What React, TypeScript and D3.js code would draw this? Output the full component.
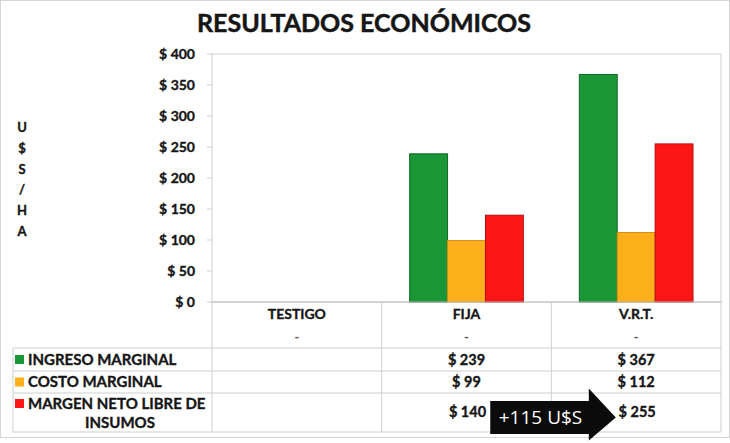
import React from 'react';
import * as d3 from 'd3';

// chart data
const categories = ['TESTIGO', 'FIJA', 'V.R.T.'];
const seriesNames = ['INGRESO MARGINAL', 'COSTO MARGINAL', 'MARGEN NETO LIBRE DE INSUMOS'];
const ingresoMarginal = [null, 239, 367];
const costoMarginal = [null, 99, 112];
const margenNeto = [null, 140, 255];
const yTicks = [0, 50, 100, 150, 200, 250, 300, 350, 400];
const yAxisLabel = ['U', '$', 'S', '/', 'H', 'A'];
const title = 'RESULTADOS ECONÓMICOS';
const arrowLabel = '+115 U$S';

const colors = ['#1b9636', '#fdb01c', '#fe1515'];
const strokes = ['#0f6a25', '#d18d12', '#b30f0f'];

const W = 730;
const H = 443;
const font = 'Lato, "Open Sans", sans-serif';
const ink = '#161616';
const gridColor = '#cfcfcf';

// bold text a little heavier, like the original's font
const heavy = {fontWeight: 700, fill: ink, stroke: ink, strokeWidth: 0.35} as const;

export default function App() {
    const series = [ingresoMarginal, costoMarginal, margenNeto];

    // set the dimensions of the plot area
    const margin = {top: 54, right: 9, bottom: 141, left: 212};
    const plotBottom = H - margin.bottom;

    const x = d3.scaleBand<string>()
        .domain(categories)
        .range([margin.left, W - margin.right]);
    const bw = x.bandwidth();

    const x1 = d3.scaleBand<string>()
        .domain(seriesNames)
        .range([bw * 0.165, bw * 0.835]);

    const y = d3.scaleLinear()
        .domain([0, 400])
        .range([plotBottom, margin.top]);

    // data table rows under the axis
    const tableLeft = 13;
    const rowLines = [plotBottom + 46, plotBottom + 69, plotBottom + 91, plotBottom + 130];
    const rowCenters = [
        (rowLines[0] + rowLines[1]) / 2,
        (rowLines[1] + rowLines[2]) / 2,
        (rowLines[2] + rowLines[3]) / 2,
    ];
    const right = W - margin.right;

    // arrow annotation between FIJA and V.R.T. margin values
    const ax0 = x('FIJA')! + bw * 0.64;
    const axTip = x('V.R.T.')! + bw * 0.38;
    const axHead = axTip - 27;
    const ayMid = rowCenters[2] + 5;
    const arrowPath = [
        [ax0, ayMid - 16.5], [axHead, ayMid - 16.5], [axHead, ayMid - 29],
        [axTip, ayMid], [axHead, ayMid + 23], [axHead, ayMid + 16.5], [ax0, ayMid + 16.5],
    ].map((p, i) => (i ? 'L' : 'M') + p[0] + ',' + p[1]).join('') + 'Z';

    return (
        <svg width={W} height={H} style={{position: 'absolute', left: 0, top: 0, background: '#fff'}}
             fontFamily={font}>
            <rect x={0.5} y={0.5} width={W - 1} height={437} fill="none" stroke="#d6d6d6" />

            <text x={364} y={32} textAnchor="middle" fontSize={25} {...heavy} strokeWidth={0.5}>{title}</text>

            {/* y axis title, one letter per line */}
            {yAxisLabel.map((c, i) => (
                <text key={i} x={22} y={132 + i * 20.8} textAnchor="middle" fontSize={13} {...heavy}>{c}</text>
            ))}

            {/* plot area border */}
            <rect x={margin.left} y={margin.top} width={right - margin.left} height={plotBottom - margin.top}
                  fill="none" stroke={gridColor} />

            {/* y axis ticks */}
            {yTicks.map(t => (
                <g key={t}>
                    <line x1={margin.left - 5} x2={margin.left} y1={y(t)} y2={y(t)} stroke={gridColor} />
                    <text x={195} y={y(t)} dy="0.35em" textAnchor="end" fontSize={14} {...heavy}>
                        {'$ ' + t}
                    </text>
                </g>
            ))}

            {/* bars */}
            {categories.map((c, ci) => (
                <g key={c} transform={`translate(${x(c)},0)`}>
                    {series.map((s, si) => s[ci] == null ? null : (
                        <rect key={si} x={x1(seriesNames[si])} width={x1.bandwidth()}
                              y={y(s[ci]!)} height={plotBottom - y(s[ci]!)}
                              fill={colors[si]} stroke={strokes[si]} strokeWidth={1} />
                    ))}
                </g>
            ))}

            {/* data table grid */}
            <line x1={margin.left} x2={right} y1={plotBottom} y2={plotBottom} stroke="#bdbdbd" />
            {rowLines.map((ry, i) => (
                <line key={i} x1={tableLeft} x2={right} y1={ry} y2={ry} stroke={gridColor} />
            ))}
            <line x1={tableLeft} x2={tableLeft} y1={rowLines[0]} y2={rowLines[3]} stroke={gridColor} />
            {categories.map(c => (
                <line key={c} x1={x(c)} x2={x(c)} y1={plotBottom} y2={rowLines[3]} stroke={gridColor} />
            ))}
            <line x1={right} x2={right} y1={plotBottom} y2={rowLines[3]} stroke={gridColor} />

            {/* category labels and dash row */}
            {categories.map(c => (
                <g key={c}>
                    <text x={x(c)! + bw / 2} y={plotBottom + 12} dy="0.35em" textAnchor="middle"
                          fontSize={14} {...heavy}>{c}</text>
                    <text x={x(c)! + bw / 2} y={plotBottom + 35} dy="0.35em" textAnchor="middle"
                          fontSize={13} fontWeight={700} fill="#555">-</text>
                </g>
            ))}

            {/* legend keys */}
            {seriesNames.map((n, si) => {
                const cy = si < 2 ? rowCenters[si] : rowCenters[2] - 9;
                return (
                    <g key={n}>
                        <rect x={15} y={cy - 4.5} width={9} height={9} fill={colors[si]} />
                        {si < 2 ? (
                            <text x={28} y={cy} dy="0.35em" fontSize={15} {...heavy}>{n}</text>
                        ) : (
                            <>
                                <text x={28} y={cy} dy="0.35em" fontSize={15} {...heavy}>
                                    {'MARGEN NETO LIBRE DE'}
                                </text>
                                <text x={120} y={cy + 19} dy="0.35em" textAnchor="middle" fontSize={15}
                                      {...heavy}>{'INSUMOS'}</text>
                            </>
                        )}
                    </g>
                );
            })}

            {/* table values */}
            {series.map((s, si) => categories.map((c, ci) => s[ci] == null ? null : (
                <text key={si + c} x={x(c)! + bw / 2 + (si === 2 ? 1 : 0)} y={rowCenters[si] + (si === 2 ? -1 : 0)}
                      dy="0.35em" textAnchor="middle" fontSize={14.5} {...heavy}>
                    {'$ ' + s[ci]}
                </text>
            )))}

            {/* arrow annotation */}
            <path d={arrowPath} fill="#0b0b0b" />
            <text x={(ax0 + axHead) / 2 + 1} y={ayMid} dy="0.35em" textAnchor="middle" fontSize={19}
                  fill="#fff" fontFamily={'"Open Sans", sans-serif'}>{arrowLabel}</text>
        </svg>
    );
}
